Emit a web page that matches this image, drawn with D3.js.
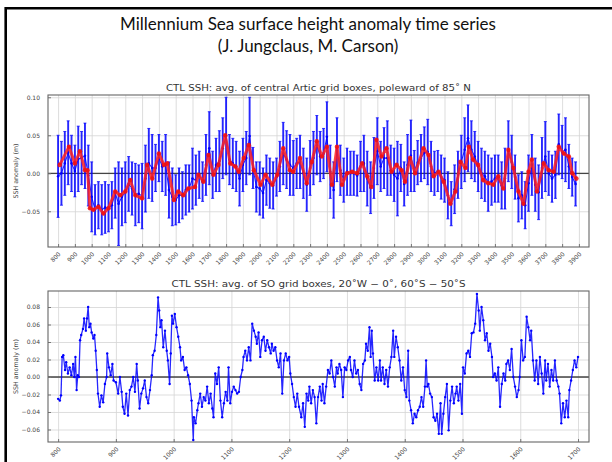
<!DOCTYPE html>
<html>
<head>
<meta charset="utf-8">
<script src="https://cdn.jsdelivr.net/npm/d3@7/dist/d3.min.js"></script>
<style>
  html, body { margin: 0; padding: 0; background: #fff; }
  svg { display: block; }
</style>
</head>
<body>
<svg id="chart" width="612" height="462"></svg>
<script>
// ---------------- DATA ----------------
const slideTitle = "Millennium Sea surface height anomaly time series";
const slideSubtitle = "(J. Jungclaus, M. Carson)";
const topTitle = "CTL SSH: avg. of central Artic grid boxes, poleward of 85\u02DA N";
const bottomTitle = "CTL SSH: avg. of SO grid boxes, 20\u02DAW \u2212 0\u02DA, 60\u02DAS \u2212 50\u02DAS";
const yLabel = "SSH anomaly (m)";

// Arctic: annual anomalies (20-yr samples) with error bar half-widths
const arcticYears = [
  800,820,840,860,880,900,920,940,960,980,
  1000,1020,1040,1060,1080,1100,1120,1140,1160,1180,
  1200,1220,1240,1260,1280,1300,1320,1340,1360,1380,
  1400,1420,1440,1460,1480,1500,1520,1540,1560,1580,
  1600,1620,1640,1660,1680,1700,1720,1740,1760,1780,
  1800,1820,1840,1860,1880,1900,1920,1940,1960,1980,
  2000,2020,2040,2060,2080,2100,2120,2140,2160,2180,
  2200,2220,2240,2260,2280,2300,2320,2340,2360,2380,
  2400,2420,2440,2460,2480,2500,2520,2540,2560,2580,
  2600,2620,2640,2660,2680,2700,2720,2740,2760,2780,
  2800,2820,2840,2860,2880,2900,2920,2940,2960,2980,
  3000,3020,3040,3060,3080,3100,3120,3140,3160,3180,
  3200,3220,3240,3260,3280,3300,3320,3340,3360,3380,
  3400,3420,3440,3460,3480,3500,3520,3540,3560,3580,
  3600,3620,3640,3660,3680,3700,3720,3740,3760,3780,
  3800,3820,3840,3860,3880
];
const arcticSSH = [
  -0.004,0.000,0.013,0.027,0.013,0.003,0.019,0.020,0.023,-0.003,
  -0.031,-0.048,-0.042,-0.048,-0.045,-0.046,-0.042,-0.026,-0.040,-0.031,
  -0.025,-0.014,-0.020,-0.028,-0.027,-0.030,-0.007,0.013,0.007,0.007,
  0.020,0.009,0.011,-0.022,-0.031,-0.035,-0.029,-0.029,-0.022,-0.020,
  -0.007,-0.009,-0.002,-0.011,0.011,0.033,-0.002,0.011,0.016,0.033,
  0.049,0.018,0.013,0.009,-0.007,0.011,0.020,0.049,0.007,-0.018,
  -0.020,-0.026,-0.009,-0.013,-0.016,-0.005,0.009,0.026,0.018,0.011,
  0.007,0.013,0.015,0.000,-0.015,0.007,0.020,0.037,0.022,0.026,
  0.048,0.002,-0.022,0.031,0.004,-0.009,0.002,0.000,0.000,-0.003,
  0.009,0.013,-0.007,-0.019,0.007,0.029,0.009,0.020,0.020,0.004,
  -0.002,-0.007,0.007,-0.014,0.011,0.023,0.003,0.014,0.020,0.027,
  0.028,0.009,0.000,0.003,-0.005,-0.009,-0.029,-0.040,-0.021,-0.002,
  0.015,0.031,0.046,0.031,0.022,0.009,0.000,-0.004,-0.013,-0.011,
  -0.007,-0.007,-0.016,-0.007,0.029,0.015,-0.005,-0.033,-0.029,-0.042,
  -0.013,0.011,-0.015,-0.025,0.007,0.022,0.000,-0.007,-0.002,0.038,
  0.028,0.031,0.009,-0.005,-0.014
];
const arcticErr = [
  0.054,0.042,0.042,0.042,0.037,0.034,0.043,0.035,0.043,0.040,
  0.046,0.033,0.031,0.033,0.034,0.031,0.031,0.033,0.055,0.038,
  0.040,0.036,0.035,0.041,0.038,0.043,0.044,0.046,0.044,0.031,
  0.031,0.033,0.040,0.037,0.038,0.033,0.036,0.031,0.033,0.031,
  0.040,0.033,0.031,0.026,0.040,0.048,0.031,0.035,0.040,0.040,
  0.051,0.033,0.033,0.033,0.036,0.035,0.035,0.051,0.027,0.033,
  0.035,0.033,0.033,0.033,0.031,0.025,0.033,0.041,0.038,0.040,
  0.036,0.033,0.035,0.033,0.035,0.036,0.035,0.039,0.033,0.033,
  0.046,0.035,0.037,0.042,0.033,0.029,0.031,0.029,0.029,0.027,
  0.033,0.037,0.036,0.034,0.040,0.044,0.033,0.040,0.049,0.033,
  0.035,0.049,0.031,0.029,0.040,0.047,0.027,0.029,0.031,0.034,
  0.043,0.033,0.029,0.027,0.029,0.029,0.031,0.029,0.032,0.031,
  0.035,0.042,0.044,0.038,0.033,0.033,0.033,0.033,0.037,0.031,
  0.031,0.031,0.031,0.040,0.040,0.035,0.029,0.031,0.031,0.031,
  0.037,0.040,0.035,0.036,0.040,0.046,0.029,0.031,0.031,0.040,
  0.035,0.042,0.029,0.025,0.029
];
// Arctic: smoothed series (red)
const arcticSmoothYears = [
  810,865,900,930,960,975,990,1010,1040,1070,1100,1140,1170,1200,1230,1260,1300,1330,1360,1400,
  1430,1450,1490,1515,1545,1575,1615,1635,1665,1695,1725,1755,1795,1825,1855,1875,1905,1935,1965,2005,
  2035,2075,2105,2140,2180,2200,2240,2280,2310,2340,2370,2400,2430,2460,2490,2520,2550,2580,2610,2640,
  2665,2695,2725,2755,2785,2815,2845,2865,2895,2925,2975,3005,3035,3065,3095,3135,3165,3195,3225,3245,
  3270,3300,3330,3360,3390,3420,3450,3480,3510,3540,3570,3600,3620,3650,3690,3720,3750,3780,3810,3840,
  3860,3885
];
const arcticSmooth = [
  0.011,0.035,0.013,0.029,0.004,0.004,-0.046,-0.048,-0.044,-0.053,-0.046,-0.024,-0.029,-0.024,-0.009,-0.029,-0.033,0.011,-0.007,0.026,
  0.011,0.013,-0.035,-0.024,-0.029,-0.020,-0.018,-0.002,-0.011,0.024,-0.002,0.011,0.050,0.013,0.009,0.002,0.020,0.037,0.004,-0.015,
  -0.002,-0.015,-0.002,0.033,0.004,0.002,0.020,-0.013,0.015,0.042,0.022,0.035,-0.015,0.035,-0.015,0.000,0.002,0.000,0.013,-0.004,
  -0.018,0.044,0.022,0.033,0.002,0.011,0.004,-0.011,0.020,0.000,0.033,0.024,-0.004,0.002,-0.011,-0.040,-0.024,0.015,0.007,0.035,
  0.018,0.011,-0.009,-0.013,-0.015,-0.004,-0.020,0.031,0.007,-0.024,-0.040,0.002,0.018,-0.024,0.013,0.004,0.002,0.035,0.026,0.022,
  0.000,-0.007
];
const arcticXTicks = [800,900,1000,1100,1200,1300,1400,1500,1600,1700,1800,1900,2000,2100,2200,2300,
  2400,2500,2600,2700,2800,2900,3000,3100,3200,3300,3400,3500,3600,3700,3800,3900];
const arcticYTicks = [-0.05, 0.00, 0.05, 0.10];

// Southern Ocean series
const soYears = [
  800,803,805,807,809,812,814,817,820,823,826,828,830,832,834,836,838,840,843,845,
  848,850,852,854,856,858,861,863,865,867,869,872,875,878,881,884,885,888,891,894,
  896,900,904,907,910,912,915,918,921,924,927,930,933,936,938,941,944,947,950,953,
  956,959,962,964,967,970,973,975,977,979,982,985,988,990,993,995,997,999,1002,1005,
  1008,1011,1013,1016,1019,1022,1025,1028,1031,1034,1035,1038,1041,1043,1046,1049,1052,1055,1058,1061,
  1064,1067,1069,1072,1075,1078,1081,1084,1087,1090,1093,1095,1098,1101,1104,1107,1110,1113,1116,1119,
  1121,1124,1127,1130,1133,1136,1139,1142,1144,1147,1150,1153,1156,1159,1162,1165,1168,1170,1173,1176,
  1179,1182,1185,1188,1191,1194,1197,1200,1202,1205,1208,1211,1214,1217,1221,1224,1227,1230,1233,1235,
  1238,1241,1244,1247,1250,1253,1256,1258,1261,1264,1267,1270,1273,1276,1279,1282,1284,1287,1290,1293,
  1296,1299,1302,1305,1307,1310,1313,1316,1319,1322,1325,1328,1331,1333,1336,1339,1341,1343,1345,1348,
  1351,1354,1357,1359,1362,1365,1368,1371,1374,1377,1380,1382,1385,1388,1391,1394,1397,1400,1403,1406,
  1408,1411,1414,1417,1420,1423,1426,1429,1432,1435,1437,1439,1441,1444,1447,1450,1453,1456,1459,1462,
  1464,1467,1470,1473,1476,1479,1482,1485,1488,1490,1493,1496,1499,1501,1504,1507,1510,1513,1516,1519,
  1522,1525,1528,1530,1533,1536,1539,1542,1545,1548,1551,1553,1556,1559,1562,1565,1568,1571,1574,1576,
  1579,1582,1585,1588,1591,1594,1597,1599,1602,1605,1608,1611,1614,1617,1619,1622,1625,1628,1631,1634,
  1637,1640,1643,1645,1648,1651,1654,1657,1660,1663,1666,1668,1671,1674,1677,1680,1683,1685,1688,1691,
  1694,1697,1700
];
const soSSH = [
  -0.025,-0.027,-0.021,0.023,0.025,0.008,0.017,0.004,0.011,0.002,0.015,0.000,0.023,-0.015,0.002,0.000,0.042,0.048,0.055,0.067,
  0.053,0.067,0.080,0.057,0.061,0.051,0.044,0.048,0.030,0.008,-0.019,-0.034,-0.021,-0.029,-0.008,0.000,0.027,0.011,0.002,0.015,
  -0.004,-0.006,-0.019,0.000,-0.017,-0.034,-0.042,-0.019,-0.044,-0.015,-0.011,0.000,-0.017,0.015,-0.004,-0.036,-0.019,-0.013,-0.004,-0.023,
  -0.030,-0.015,0.002,0.025,0.030,0.048,0.091,0.076,0.057,0.065,0.034,0.053,0.030,0.019,-0.008,0.027,0.070,0.061,0.072,0.057,
  0.046,0.034,0.019,0.023,0.008,0.011,0.002,-0.008,-0.027,-0.072,-0.046,-0.053,-0.038,-0.030,-0.019,-0.034,-0.023,-0.027,-0.011,-0.030,
  -0.019,-0.036,-0.046,0.004,-0.008,0.011,-0.027,-0.046,-0.030,-0.017,-0.027,0.011,-0.030,-0.017,-0.011,-0.015,-0.019,-0.017,0.000,0.008,
  0.023,0.030,0.019,0.034,0.019,0.061,0.053,0.046,0.038,0.051,0.023,0.042,0.046,0.030,0.042,0.034,0.027,0.038,0.030,0.034,
  0.019,0.011,0.027,-0.019,0.019,0.027,0.019,0.023,0.004,-0.008,-0.023,-0.034,-0.019,-0.034,-0.046,-0.030,-0.057,-0.019,-0.027,-0.011,
  -0.030,-0.015,-0.023,-0.053,-0.023,-0.011,-0.027,-0.008,-0.030,-0.011,0.008,0.004,0.019,0.000,-0.011,0.011,0.004,0.015,0.008,-0.023,
  0.011,0.008,0.019,0.023,0.008,0.000,0.019,0.004,0.008,-0.008,-0.015,0.015,0.019,0.038,0.030,0.057,0.023,0.053,0.027,-0.004,
  0.011,-0.004,0.019,-0.004,0.011,-0.008,0.008,-0.011,0.011,0.023,0.053,0.023,0.046,0.034,0.019,-0.004,0.011,-0.015,-0.023,0.030,
  -0.027,-0.038,-0.053,-0.042,-0.046,-0.038,-0.034,-0.023,-0.034,-0.011,0.019,-0.011,-0.008,-0.019,-0.023,-0.046,-0.050,-0.042,-0.065,-0.030,
  -0.065,-0.042,-0.023,-0.008,-0.061,-0.027,-0.011,-0.030,-0.019,-0.011,-0.027,-0.008,-0.042,0.011,0.004,0.027,0.030,0.023,0.050,0.051,
  0.061,0.095,0.076,0.053,0.080,0.065,0.042,0.050,0.030,0.038,0.023,0.000,0.004,-0.004,0.011,-0.034,-0.008,0.004,-0.004,0.015,
  0.019,0.008,0.032,0.000,-0.011,-0.023,-0.015,0.000,0.042,0.019,0.023,0.069,0.057,0.042,0.053,0.019,-0.004,0.019,-0.008,0.023,
  0.004,-0.019,0.019,-0.004,0.015,-0.011,0.008,-0.004,0.019,-0.004,-0.011,-0.019,-0.053,-0.030,-0.046,-0.027,-0.046,-0.015,-0.004,0.008,
  0.019,0.011,0.023
];
const soXTicks = [800,900,1000,1100,1200,1300,1400,1500,1600,1700];
const soYTicks = [-0.06,-0.04,-0.02,0.00,0.02,0.04,0.06,0.08];

// ---------------- DRAW ----------------
const svg = d3.select("#chart");
const FONT = "'DejaVu Sans', sans-serif";

// slide frame
svg.append("path").attr("d", "M5.7,470 V8.3 H620").attr("fill","none")
   .attr("stroke","#000").attr("stroke-width",2.6);

svg.append("text").attr("x",308).attr("y",30).attr("text-anchor","middle")
   .attr("font-family","Lato, 'Open Sans', sans-serif").attr("font-size",17).attr("fill","#111")
   .text(slideTitle);
svg.append("text").attr("x",308).attr("y",52).attr("text-anchor","middle")
   .attr("font-family","Lato, 'Open Sans', sans-serif").attr("font-size",17).attr("fill","#111")
   .text(slideSubtitle);

function panel(cfg) {
  const {left,right,top,bottom,xDomain,yDomain,xTicks,yTicks,yFmt,title,titleY,titleLen} = cfg;
  const x = d3.scaleLinear().domain(xDomain).range([left,right]);
  const y = d3.scaleLinear().domain(yDomain).range([bottom,top]);
  const g = svg.append("g");
  const w = right-left, h = bottom-top;

  // grid
  g.append("g").attr("transform",`translate(0,${bottom})`)
    .call(d3.axisBottom(x).tickValues(xTicks).tickSize(-h).tickFormat(""))
    .call(s => { s.select(".domain").remove(); s.selectAll("line").attr("stroke","#d4d4d4").attr("stroke-width",0.8); });
  g.append("g").attr("transform",`translate(${left},0)`)
    .call(d3.axisLeft(y).tickValues(yTicks).tickSize(-w).tickFormat(""))
    .call(s => { s.select(".domain").remove(); s.selectAll("line").attr("stroke","#d4d4d4").attr("stroke-width",0.8); });

  // zero line
  g.append("line").attr("x1",left).attr("x2",right).attr("y1",y(0)).attr("y2",y(0))
    .attr("stroke","#444").attr("stroke-width",1.3);

  // axes
  const xa = g.append("g").attr("transform",`translate(0,${bottom})`)
    .call(d3.axisBottom(x).tickValues(xTicks).tickSizeInner(-3).tickSizeOuter(0).tickFormat(d3.format("d")));
  xa.selectAll("text").attr("x",0).attr("y",0).attr("dy","0.35em")
    .attr("text-anchor","end").attr("transform","translate(1,6) rotate(-45)");
  const ya = g.append("g").attr("transform",`translate(${left},0)`)
    .call(d3.axisLeft(y).tickValues(yTicks).tickSizeInner(-3).tickSizeOuter(0).tickPadding(8).tickFormat(yFmt));
  [xa,ya].forEach(a => {
    a.select(".domain").remove();
    a.selectAll("line").attr("stroke","#777");
    a.selectAll("text").attr("font-family",FONT).attr("font-size",6).attr("fill","#444");
  });
  // frame
  g.append("rect").attr("x",left).attr("y",top).attr("width",w).attr("height",h)
    .attr("fill","none").attr("stroke","#666").attr("stroke-width",1.1);

  g.append("text").attr("x",(left+right)/2).attr("y",titleY).attr("text-anchor","middle")
    .attr("font-family",FONT).attr("font-size",9).attr("fill","#333")
    .attr("textLength",titleLen).attr("lengthAdjust","spacingAndGlyphs").text(title);
  g.append("text").attr("transform",`translate(18,${(top+bottom)/2}) rotate(-90)`)
    .attr("text-anchor","middle").attr("font-family",FONT).attr("font-size",6.3).attr("fill","#444").text(yLabel);

  const clipId = "clip" + top;
  svg.append("clipPath").attr("id",clipId).append("rect")
    .attr("x",left).attr("y",top).attr("width",w).attr("height",h);
  const plot = svg.append("g").attr("clip-path",`url(#${clipId})`);
  return {x,y,plot};
}

// Top panel (Arctic)
const P1 = panel({left:48,right:589,top:95,bottom:247,xDomain:[740,3960],yDomain:[-0.097,0.103],
  xTicks:arcticXTicks,yTicks:arcticYTicks,yFmt:d => d3.format(".2f")(d).replace("-","\u2212"),
  title:topTitle,titleY:91,titleLen:305});
const arctic = arcticYears.map((yr,i) => ({yr, v:arcticSSH[i], e:arcticErr[i]}));
const blue = "#0000ff";
P1.plot.append("g").selectAll("line").data(arctic).join("line")
  .attr("x1",d=>P1.x(d.yr)).attr("x2",d=>P1.x(d.yr))
  .attr("y1",d=>P1.y(d.v-d.e)).attr("y2",d=>P1.y(d.v+d.e))
  .attr("stroke",blue).attr("stroke-width",1.9).attr("stroke-opacity",0.85);
P1.plot.append("g").selectAll("path").data(arctic).join("path")
  .attr("d",d=>`M${P1.x(d.yr)-1.5},${P1.y(d.v-d.e)}h3M${P1.x(d.yr)-1.5},${P1.y(d.v+d.e)}h3`)
  .attr("stroke",blue).attr("stroke-width",0.9).attr("stroke-opacity",0.85);
P1.plot.append("path").datum(arctic)
  .attr("d",d3.line().x(d=>P1.x(d.yr)).y(d=>P1.y(d.v)))
  .attr("fill","none").attr("stroke",blue).attr("stroke-width",1.1).attr("stroke-opacity",0.85);
P1.plot.append("g").selectAll("circle").data(arctic).join("circle")
  .attr("cx",d=>P1.x(d.yr)).attr("cy",d=>P1.y(d.v)).attr("r",1.3).attr("fill",blue);
const smooth = arcticSmoothYears.map((yr,i)=>({yr, v:arcticSmooth[i]}));
P1.plot.append("path").datum(smooth)
  .attr("d",d3.line().x(d=>P1.x(d.yr)).y(d=>P1.y(d.v)))
  .attr("fill","none").attr("stroke","#ff2020").attr("stroke-width",3).attr("stroke-opacity",0.85)
  .attr("stroke-linejoin","round");
P1.plot.append("g").selectAll("circle").data(smooth).join("circle")
  .attr("cx",d=>P1.x(d.yr)).attr("cy",d=>P1.y(d.v)).attr("r",2.3).attr("fill","#ee1111").attr("fill-opacity",0.85);

// Bottom panel (Southern Ocean)
const P2 = panel({left:48,right:589,top:291,bottom:442,xDomain:[782.5,1719],yDomain:[-0.0743,0.0983],
  xTicks:soXTicks,yTicks:soYTicks,yFmt:d => d3.format(".2f")(d).replace("-","\u2212"),
  title:bottomTitle,titleY:287,titleLen:294});
const so = soYears.map((yr,i)=>({yr, v:soSSH[i]}));
P2.plot.append("path").datum(so)
  .attr("d",d3.line().x(d=>P2.x(d.yr)).y(d=>P2.y(d.v)))
  .attr("fill","none").attr("stroke",blue).attr("stroke-width",1.3).attr("stroke-opacity",0.85)
  .attr("stroke-linejoin","round");
P2.plot.append("g").selectAll("circle").data(so).join("circle")
  .attr("cx",d=>P2.x(d.yr)).attr("cy",d=>P2.y(d.v)).attr("r",1.2).attr("fill",blue);
</script>
</body>
</html>
